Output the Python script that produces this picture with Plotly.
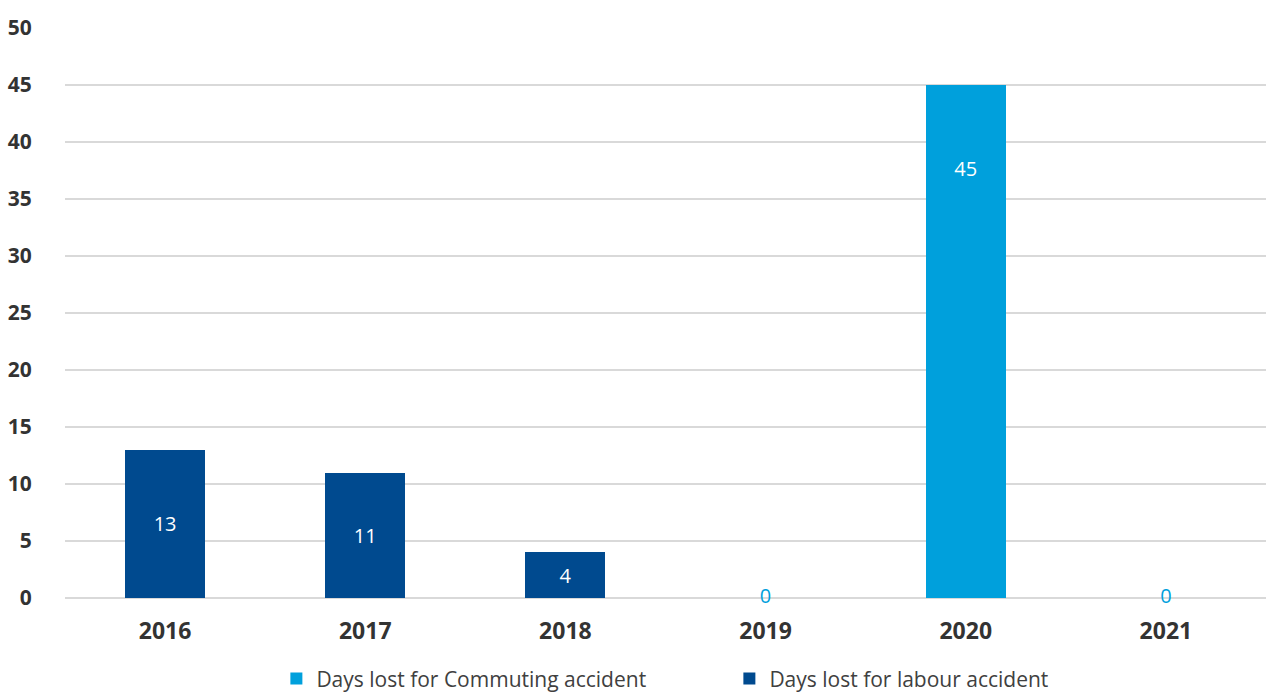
import plotly.graph_objects as go

# Days lost per year, split by accident type
years = ["2016", "2017", "2018", "2019", "2020", "2021"]
commuting_days = [None, None, None, 0, 45, 0]
labour_days = [13, 11, 4, None, None, None]
y_ticks = [0, 5, 10, 15, 20, 25, 30, 35, 40, 45, 50]

COMMUTING_COLOR = "#00A0DC"
LABOUR_COLOR = "#004A8F"
FONT = "Open Sans"

fig = go.Figure()

fig.add_trace(go.Bar(
    name="Days lost for Commuting accident",
    x=years, y=commuting_days,
    marker=dict(color=COMMUTING_COLOR, line=dict(width=0)),
))
fig.add_trace(go.Bar(
    name="Days lost for labour accident",
    x=years, y=labour_days,
    marker=dict(color=LABOUR_COLOR, line=dict(width=0)),
    text=[str(v) if v is not None else "" for v in labour_days],
    textposition="inside",
    insidetextanchor="middle",
    textfont=dict(family=FONT, size=20, color="white"),
    textangle=0,
))

# Commuting labels: zero values sit on the baseline, others inside the bar
lab_x, lab_y, lab_t, lab_c = [], [], [], []
for yr, v in zip(years, commuting_days):
    if v is None:
        continue
    lab_x.append(yr)
    lab_y.append(0 if v == 0 else v - 7.5)
    lab_t.append(str(v))
    lab_c.append(COMMUTING_COLOR if v == 0 else "white")

fig.add_trace(go.Scatter(
    x=lab_x, y=lab_y, text=lab_t, mode="text",
    textposition="middle center",
    textfont=dict(family=FONT, size=20, color=lab_c),
    showlegend=False, hoverinfo="skip", cliponaxis=False,
))

fig.update_layout(
    width=1266, height=693,
    margin=dict(l=65, r=0, t=28, b=95, autoexpand=False),
    barmode="stack",
    bargap=0.6,
    plot_bgcolor="white",
    paper_bgcolor="white",
    font=dict(family=FONT, color="#404040"),
    legend=dict(
        orientation="h", x=0.176, xanchor="left", y=-0.142, yanchor="middle",
        traceorder="normal",
        font=dict(family=FONT, size=21, color="#404040"),
        entrywidth=408,
    ),
    xaxis=dict(
        type="category",
        categoryorder="array", categoryarray=years,
        range=[-0.5, len(years) - 0.5],
        showgrid=False, showline=False, zeroline=False,
        tickfont=dict(family=FONT, size=23, color="#333333", weight="bold"),
        ticks="outside", ticklen=12, tickcolor="rgba(0,0,0,0)",
    ),
    yaxis=dict(
        range=[0, 50], tickvals=y_ticks,
        showgrid=True, gridcolor="#D9D9D9", gridwidth=2,
        zeroline=True, zerolinecolor="#D9D9D9", zerolinewidth=2,
        showline=False,
        tickfont=dict(family=FONT, size=21, color="#333333", weight="bold"),
        ticks="outside", ticklen=28, tickcolor="rgba(0,0,0,0)",
    ),
)

fig.write_html("out.html")
